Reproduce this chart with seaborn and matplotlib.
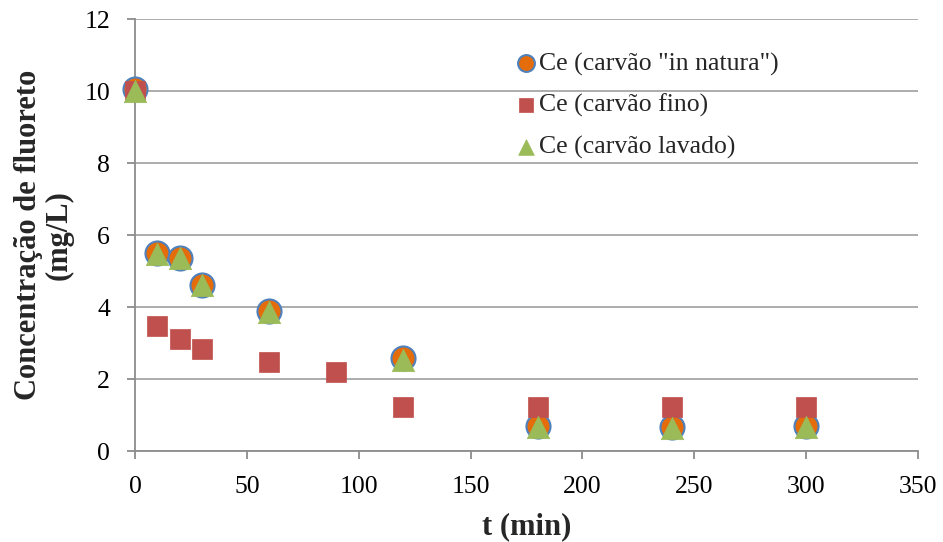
import matplotlib
matplotlib.use("Agg")
import matplotlib.pyplot as plt
import seaborn as sns

# Contact time (min) and residual fluoride concentration (mg/L)
t_natura = [0, 10, 20, 30, 60, 120, 180, 240, 300]
ce_natura = [10.05, 5.50, 5.37, 4.62, 3.90, 2.57, 0.70, 0.68, 0.70]

t_fino = [0, 10, 20, 30, 60, 90, 120, 180, 240, 300]
ce_fino = [10.0, 3.48, 3.12, 2.83, 2.48, 2.19, 1.22, 1.22, 1.22, 1.22]

t_lavado = [0, 10, 20, 30, 60, 120, 180, 240, 300]
ce_lavado = [10.0, 5.47, 5.35, 4.60, 3.87, 2.54, 0.67, 0.65, 0.67]

labels = ['Ce (carvão "in natura")', "Ce (carvão fino)", "Ce (carvão lavado)"]
x_ticks = [0, 50, 100, 150, 200, 250, 300, 350]
y_ticks = [0, 2, 4, 6, 8, 10, 12]

sns.set_theme(style="white")
plt.rcParams["font.family"] = ["Liberation Serif", "DejaVu Serif"]

fig = plt.figure(figsize=(9.43, 5.42), dpi=100)
ax = fig.add_axes([135 / 943, 1 - 451 / 542, (918 - 135) / 943, (451 - 19) / 542])

ax.yaxis.grid(True, color="#a6a6a6", linewidth=1.3, zorder=0)
ax.set_axisbelow(True)

sns.scatterplot(x=t_natura, y=ce_natura, ax=ax, marker="o", s=300,
                color="#E46C0A", edgecolor="#4F81BD", linewidth=1.5,
                label=labels[0], zorder=3, clip_on=False)
sns.scatterplot(x=t_fino, y=ce_fino, ax=ax, marker="s", s=210,
                color="#C0504D", edgecolor="#C0504D", linewidth=0.5,
                label=labels[1], zorder=4, clip_on=False)
sns.scatterplot(x=t_lavado, y=ce_lavado, ax=ax, marker="^", s=260,
                color="#9BBB59", edgecolor="#9BBB59", linewidth=0.5,
                label=labels[2], zorder=5, clip_on=False)

ax.set_xlim(0, 350)
ax.set_ylim(0, 12)
ax.set_xticks(x_ticks)
ax.set_yticks(y_ticks)
ax.tick_params(axis="both", labelsize=18.5, direction="out", length=6,
               width=1.3, color="#8c8c8c", labelcolor="black",
               left=True, bottom=True)
ax.tick_params(axis="x", pad=12)
ax.tick_params(axis="y", pad=12)

for side in ["top", "right"]:
    ax.spines[side].set_visible(False)
for side in ["left", "bottom"]:
    ax.spines[side].set_color("#8c8c8c")
    ax.spines[side].set_linewidth(1.3)

ax.set_xlabel("t (min)", fontsize=22, fontweight="bold", labelpad=10)
ax.set_ylabel("Concentração de fluoreto\n(mg/L)", fontsize=22,
              fontweight="bold", labelpad=8, linespacing=1.05)

leg = ax.legend(loc="upper left", bbox_to_anchor=(0.47, 0.947), frameon=False,
                fontsize=18.5, labelspacing=0.72, handletextpad=0.0,
                handlelength=1.0, borderaxespad=0, markerscale=0.7)

fig.savefig("out.png", dpi=100)
